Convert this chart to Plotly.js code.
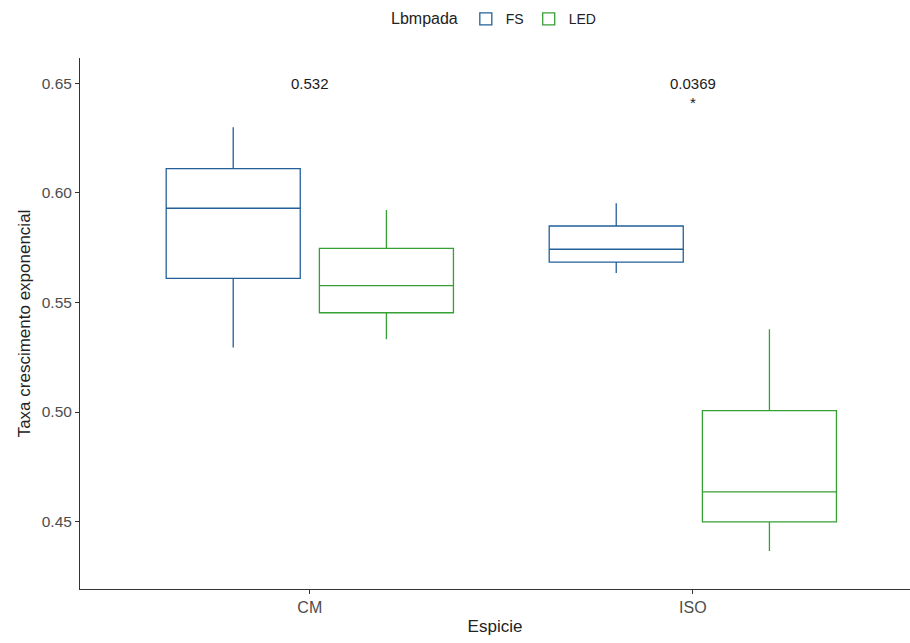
<!DOCTYPE html>
<html>
<head>
<meta charset="utf-8">
<script src="https://cdn.plot.ly/plotly-3.0.1.min.js"></script>
<style>html,body{margin:0;padding:0;background:#fff;}#chart{width:910px;height:643px;}</style>
</head>
<body>
<div id="chart"></div>
<script>
const categories = ['CM', 'ISO'];
const seriesNames = ['FS', 'LED'];
const seriesColors = ['#23609A', '#35A035'];

// FS
const fsLower = [0.5295, 0.5635];
const fsQ1 = [0.5610, 0.5684];
const fsMedian = [0.5930, 0.5743];
const fsQ3 = [0.6111, 0.5849];
const fsUpper = [0.6300, 0.5953];

// LED
const ledLower = [0.5332, 0.4365];
const ledQ1 = [0.5453, 0.4498];
const ledMedian = [0.5577, 0.4635];
const ledQ3 = [0.5747, 0.5006];
const ledUpper = [0.5922, 0.5378];

const pLabels = ['0.532', '0.0369'];
const sigLabels = ['', '*'];
const labelY = 0.65;
const sigY = 0.6415;

function boxTrace(name, color, lo, q1, med, q3, hi) {
  return {
    type: 'box', name: name, x: categories,
    lowerfence: lo, q1: q1, median: med, q3: q3, upperfence: hi,
    line: {color: color, width: 1.3},
    fillcolor: 'rgba(255,255,255,0)',
    whiskerwidth: 0,
    hoverinfo: 'skip'
  };
}

const traces = [
  boxTrace(seriesNames[0], seriesColors[0], fsLower, fsQ1, fsMedian, fsQ3, fsUpper),
  boxTrace(seriesNames[1], seriesColors[1], ledLower, ledQ1, ledMedian, ledQ3, ledUpper)
];

const annFont = {family: 'Liberation Sans, Arial, sans-serif', size: 15, color: '#1a1a1a'};
const annotations = [];
categories.forEach((c, i) => {
  annotations.push({x: c, y: labelY, xref: 'x', yref: 'y', text: pLabels[i], showarrow: false, font: annFont});
  if (sigLabels[i]) {
    annotations.push({x: c, y: sigY, xref: 'x', yref: 'y', text: sigLabels[i], showarrow: false, font: annFont});
  }
});

const layout = {
  width: 910, height: 643,
  margin: {l: 80, r: 0, t: 58, b: 54, autoexpand: false},
  paper_bgcolor: '#fff', plot_bgcolor: '#fff',
  font: {family: 'Liberation Sans, Arial, sans-serif', color: '#333'},
  boxmode: 'group', boxgap: 0.2, boxgroupgap: 0.125,
  xaxis: {
    type: 'category', categoryarray: categories, range: [-0.6, 1.567],
    showline: true, linecolor: '#333', linewidth: 1, showgrid: false, zeroline: false,
    ticks: 'outside', ticklen: 4, tickcolor: '#333',
    tickfont: {size: 16, color: '#4d4d4d'},
    title: {text: 'Espicie', font: {size: 17, color: '#222'}, standoff: 4}
  },
  yaxis: {
    range: [0.4192, 0.6616],
    tickvals: [0.45, 0.50, 0.55, 0.60, 0.65],
    ticktext: ['0.45', '0.50', '0.55', '0.60', '0.65'],
    showline: true, linecolor: '#333', linewidth: 1, showgrid: false, zeroline: false,
    ticks: 'outside', ticklen: 4, tickcolor: '#333',
    tickfont: {size: 15.5, color: '#4d4d4d'},
    title: {text: 'Taxa crescimento exponencial', font: {size: 17, color: '#222'}, standoff: 6}
  },
  showlegend: true,
  legend: {
    orientation: 'h', x: 0.5, xref: 'paper', xanchor: 'center',
    y: 0.970, yref: 'container', yanchor: 'middle',
    title: {text: 'Lbmpada', side: 'left', font: {size: 16, color: '#222'}},
    font: {size: 14, color: '#222'}, tracegroupgap: 0
  },
  annotations: annotations
};

Plotly.newPlot('chart', traces, layout, {displayModeBar: false, staticPlot: true});
</script>
</body>
</html>
